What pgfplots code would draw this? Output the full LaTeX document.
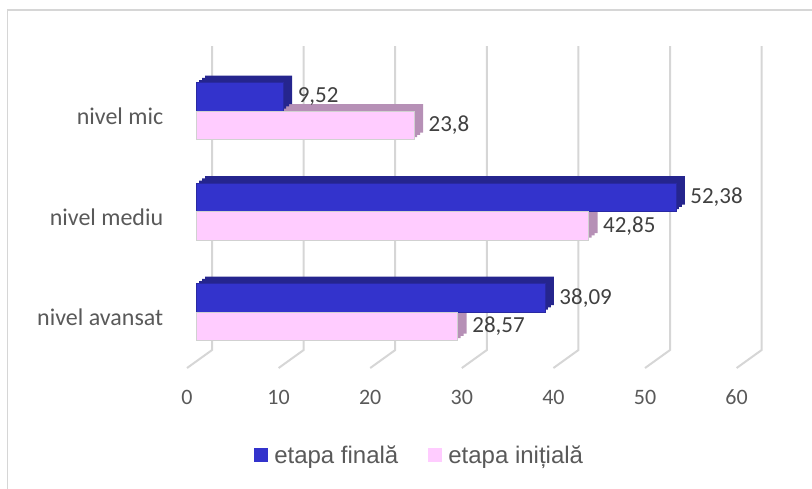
\documentclass[border=0pt]{standalone}
\usepackage{pgfplots}
\pgfplotsset{compat=1.18}
\usepackage{fontspec}
\setmainfont{Carlito}
\newfontfamily\arialf{Liberation Sans}
\definecolor{barblue}{HTML}{3333CC}
\definecolor{barbluedk}{HTML}{25258E}
\definecolor{barpink}{HTML}{FFCCFF}
\definecolor{barpinkdk}{HTML}{B690B6}
\definecolor{gridc}{HTML}{D6D6D6}
\definecolor{txt}{HTML}{595959}
\definecolor{lab}{HTML}{404040}

\pgfplotstableread{
y final initial
0 38.09 28.57
1 52.38 42.85
2 9.52 23.8
}\datatab

\begin{document}
\begin{tikzpicture}[x=1pt,y=1pt]
\useasboundingbox (0,0) rectangle (812,-489);
\draw[gridc, line width=1.6pt] (7.5,-489) -- (7.5,-10) -- (812,-10);
\begin{axis}[
  at={(214,-360.5)}, anchor=south west,
  scale only axis, width=549.6pt, height=301.5pt,
  xmin=0, xmax=60, ymin=-0.5, ymax=2.5,
  clip=false,
  xbar, bar width=28.5pt,
  axis line style={draw=none}, tick style={draw=none},
  xtick={0,10,...,60},
  ytick={0,1,2},
  yticklabels={nivel avansat, nivel mediu, {nivel mic\ }},
  xticklabel style={anchor=center, yshift=-35pt, xshift=-9pt, font=\fontsize{22}{26}\selectfont, text=txt},
  yticklabel style={anchor=east, xshift=-25pt, yshift=-5.5pt, font=\fontsize{24}{28}\selectfont, text=txt},
  /pgf/number format/use comma,
  /pgf/number format/fixed,
  /pgf/number format/precision=2,
  /pgf/number format/assume math mode=true,
  every node near coord/.append style={font=\fontsize{23}{27}\selectfont, text=lab, xshift=11pt},
  legend columns=2,
  legend style={draw=none, fill=none, at={(0.407,-0.3076)}, anchor=center,
    font=\arialf\fontsize{24}{28}\selectfont, text=txt,
    nodes={inner sep=2.5pt},
    /tikz/every odd column/.append style={column sep=4pt},
    /tikz/every even column/.append style={column sep=27pt}},
  legend image code/.code={\path[#1, draw=none] (0pt,-7pt) rectangle (14pt,7pt);},
]
\pgfplotsinvokeforeach{0,10,20,30,40,50,60}{
  \draw[gridc, line width=2pt] (axis cs:#1+1.747,2.647) -- (axis cs:#1+1.747,-0.378) -- (axis cs:#1-0.983,-0.557);
}
% depth (shadow) copies
\addplot[forget plot, fill=barpinkdk, draw=none, bar shift=-14.25pt, xshift=3pt, yshift=2.33pt] table[x=initial,y=y]{\datatab};
\addplot[forget plot, fill=barpinkdk, draw=none, bar shift=-14.25pt, xshift=6pt, yshift=4.67pt] table[x=initial,y=y]{\datatab};
\addplot[forget plot, fill=barpinkdk, draw=none, bar shift=-14.25pt, xshift=9pt, yshift=7pt] table[x=initial,y=y]{\datatab};
\addplot[forget plot, fill=barbluedk, draw=none, bar shift=14.25pt, xshift=3pt, yshift=2.33pt] table[x=final,y=y]{\datatab};
\addplot[forget plot, fill=barbluedk, draw=none, bar shift=14.25pt, xshift=6pt, yshift=4.67pt] table[x=final,y=y]{\datatab};
\addplot[forget plot, fill=barbluedk, draw=none, bar shift=14.25pt, xshift=9pt, yshift=7pt] table[x=final,y=y]{\datatab};
% front faces
\addplot[fill=barblue, draw=barblue!80!black, line width=0.4pt, bar shift=14.25pt, nodes near coords] table[x=final,y=y]{\datatab};
\addplot[fill=barpink, draw=black!18, line width=0.6pt, bar shift=-14.25pt, nodes near coords] table[x=initial,y=y]{\datatab};
\legend{etapa finală, etapa inițială}
\end{axis}
\end{tikzpicture}
\end{document}
